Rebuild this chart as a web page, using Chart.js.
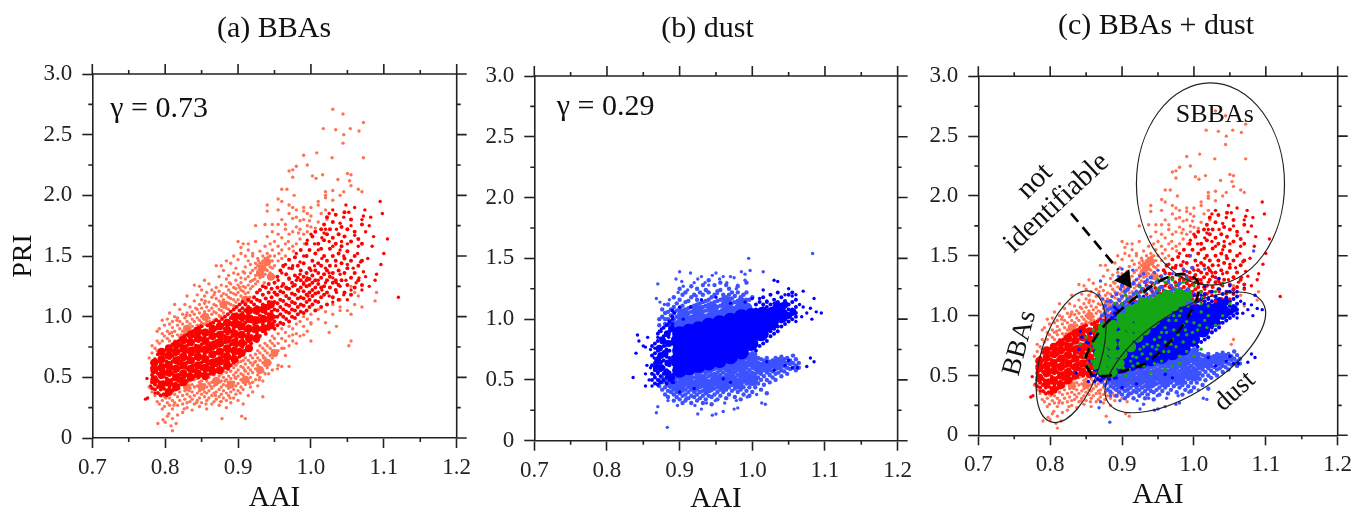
<!DOCTYPE html>
<html>
<head>
<meta charset="utf-8">
<title>BBAs and dust</title>
<script src="https://cdn.jsdelivr.net/npm/chart.js@4"></script>
<style>
html, body { margin: 0; padding: 0; background: #fff; overflow: hidden; }
canvas { position: absolute; top: 0; filter: blur(0.4px); }
</style>
</head>
<body>
<canvas id="panelA" style="left:0px" width="478" height="510"></canvas>
<canvas id="panelB" style="left:478px" width="440" height="510"></canvas>
<canvas id="panelC" style="left:918px" width="446" height="510"></canvas>
<script>
var aaiLabels = ['0.7', '0.8', '0.9', '1.0', '1.1', '1.2'];
var priLabels = ['0', '0.5', '1.0', '1.5', '2.0', '2.5', '3.0'];
var aaiMinor = [0.75, 0.85, 0.95, 1.05, 1.15];
var priMinor = [0.25, 0.75, 1.25, 1.75, 2.25, 2.75];

// BBAs, pale points (AAI, PRI)
var bbaPale = [
[1.03,2.71],[1.044,2.67],[1.072,2.60],[1.017,2.55],[1.034,2.54],[1.054,2.55],[1.066,2.53],[1.045,2.50],[1.044,2.43],[.99,2.33],
[.995,2.25],[1.008,2.35],[1.029,2.31],[1.072,2.31],[.975,2.21],[.98,2.24],[.97,2.2],[.975,2.15],[1.002,2.16],[1.007,2.14],
[1.016,2.17],[1.05,2.18],[1.055,2.17],[1.053,2.12],[1.055,2.08],[1.037,2.13],[1.065,2.05],[1.07,2.03],[1.02,2.03],[1.03,2.04],
[1.045,2.03],[.96,2.05],[.967,2.05],[.977,2.0],[.955,1.97],[.96,1.95],[.97,1.92],[.94,1.92],[.94,1.87],[.955,1.88],
[.81,.06],[.808,.1],[.815,.12],[.8,.13],[.79,.12],[.797,.15],[.805,.2],[.878,.16],[.905,.18],[.91,.16],
[1.0,.8],[.99,.85],[1.025,.87],[1.035,.92],[1.055,.8],[1.052,.76],[1.04,1.08],[1.05,1.05],[1.055,1.02],[1.06,1.1],
[1.07,1.08],[1.06,1.2],[1.065,1.17],[1.088,1.13],[1.09,1.2],[1.055,1.25],[1.02,.95],[1.0,.95],[.975,.85],[.96,.59],[.97,.59],
[.801,.33],[.812,.27],[.819,.41],[.826,.24],[.833,.39],[.843,.29],[.849,.44],[.856,.28],[.862,.43],[.869,.35],
[.876,.3],[.882,.47],[.889,.33],[.896,.5],[.903,.37],[.909,.56],[.916,.45],[.922,.62],[.929,.48],[.935,.66],
[.942,.53],[.948,.69],[.954,.57],[.963,.74],[.809,.87],[.816,.97],[.822,.85],[.829,1.01],[.835,.88],[.842,1.07],
[.848,.93],[.855,1.13],[.861,.96],[.868,1.2],[.875,1.0],[.881,1.11],[.888,1.28],[.895,1.07],[.902,1.24],[.909,1.36],
[.916,1.16],[.923,1.31],[.93,1.41],[.936,1.28],[.943,1.46],[.949,1.33],[.956,1.52],[.962,1.41],[.969,1.62],[.976,1.54],
[.983,1.69],[.991,1.6],[.998,1.79],[1.006,1.73],[1.014,1.85],[1.022,1.8],[.933,1.44],[.938,1.39],[.941,1.49],[.928,1.46]
];

var bbaPaleColumns = [
[.778,[.42,.66]],[.782,[.38,.7,.76]],[.786,[.35,.44,.74]],[.789,[.3,.72,.8,.88]],[.792,[.28,.36,.78,.9]],
[.796,[.24,.31,.8,.86,.97]],[.799,[.26,.34,.4,.84,.93]],[.803,[.18,.29,.37,.82,.88,.98]],[.806,[.27,.33,.8,.86,.94,1.03]],
[.81,[.16,.24,.31,.4,.84,.91,.96]],[.813,[.29,.36,.8,.88,1.0,1.1]],[.817,[.19,.27,.34,.42,.85,.93,.99]],[.82,[.31,.38,.44,.83,.9,.96,1.06]],
[.824,[.21,.28,.35,.88,.94,1.02]],[.827,[.32,.39,.45,.86,.91,.99,1.1]],[.83,[.25,.29,.36,.43,.89,.96,1.03,1.17]],[.834,[.3,.34,.41,.47,.9,.94,1.01,1.08]],
[.837,[.23,.32,.38,.44,.92,.98,1.04]],[.84,[.28,.35,.42,.48,.89,.96,1.02,1.13,1.26]],[.844,[.31,.37,.43,.49,.93,.99,1.06,1.18]],[.847,[.26,.33,.39,.46,.91,.97,1.03,1.1,1.25]],
[.85,[.29,.36,.41,.47,.95,1.0,1.07,1.14,1.22]],[.854,[.34,.38,.44,.49,.94,.98,1.04,1.11,1.17,1.3]],[.857,[.24,.31,.37,.42,.47,.96,1.01,1.08,1.2]],[.86,[.33,.39,.45,.5,.93,.99,1.05,1.12,1.27]],
[.864,[.28,.35,.41,.46,.95,1.02,1.07,1.16,1.22]],[.867,[.3,.37,.43,.48,.52,.97,1.04,1.1,1.18]],[.87,[.32,.38,.44,.49,.98,1.03,1.09,1.15,1.24,1.42]],[.874,[.27,.34,.4,.46,.51,1.01,1.06,1.13,1.21,1.33]],
[.877,[.3,.36,.42,.47,.53,1.0,1.05,1.11,1.17,1.26,1.42]],[.88,[.33,.39,.44,.5,.55,1.03,1.08,1.14,1.19,1.38]],[.884,[.25,.31,.37,.43,.48,.54,1.07,1.12,1.18,1.25,1.31,1.46]],[.887,[.35,.41,.46,.51,.57,1.06,1.11,1.16,1.22,1.34]],
[.89,[.29,.38,.44,.49,.55,1.1,1.15,1.2,1.27,1.44]],[.894,[.33,.4,.46,.52,.58,1.09,1.14,1.19,1.24,1.36,1.5]],[.897,[.36,.43,.49,.54,.6,1.12,1.18,1.23,1.3,1.4]],[.9,[.31,.39,.45,.51,.56,.62,1.14,1.2,1.26,1.35,1.47,1.62]],
[.904,[.42,.48,.53,.59,.63,1.17,1.22,1.28,1.32,1.52,1.57]],[.907,[.28,.4,.46,.52,.58,.64,1.15,1.21,1.25,1.37,1.6]],[.91,[.44,.5,.55,.61,.66,1.19,1.24,1.31,1.41,1.5]],[.914,[.35,.47,.53,.58,.64,1.2,1.26,1.33,1.46,1.55,1.6]],
[.917,[.42,.5,.56,.62,.68,1.23,1.29,1.36,1.43]],[.92,[.38,.46,.54,.6,.66,1.25,1.3,1.38,1.5,1.52]],[.924,[.48,.57,.63,.69,1.27,1.34,1.4,1.44,1.62,1.75]],[.927,[.43,.52,.6,.66,.72,1.29,1.36,1.42,1.48]],
[.93,[.5,.58,.64,.7,.76,1.32,1.38,1.44,1.54]],[.934,[.34,.47,.55,.62,.68,.74,1.33,1.4,1.46,1.5]],[.937,[.53,.6,.66,.72,.78,1.35,1.42,1.48,1.58,1.76]],[.94,[.58,.64,.7,.76,1.38,1.44,1.52,1.66]],
[.944,[.62,.68,.74,.8,1.36,1.41,1.5,1.6]],[.947,[.56,.66,.72,.78,.84,1.4,1.46,1.55,1.7,1.76]],[.95,[.7,.76,.82,1.42,1.5,1.62]],[.955,[.6,.72,.78,.86,1.46,1.58,1.68,1.76]],
[.96,[.74,.82,.9,1.48,1.55,1.65,1.8]],[.965,[.68,.8,.87,1.5,1.6,1.72,1.76]],[.97,[.76,.84,.92,1.56,1.68,1.85]],[.975,[.8,.9,1.58,1.7,1.81,1.9]],
[.98,[.78,.86,.94,1.6,1.74,1.82,1.88]],[.985,[.84,.96,1.64,1.72,1.79]],[.99,[.92,1.0,1.68,1.8,1.87,1.9]],[.995,[.88,.98,1.7,1.75,1.85]],
[1.0,[.94,1.02,1.74,1.83,1.9]],[1.01,[.98,1.06,1.78,1.92,1.95]],[1.02,[1.04,1.88,1.98,2.0]],[1.03,[1.02,1.1,1.96]],[1.04,[1.05,1.14,2.0]]
];

// denser patches of the pale BBA cloud
var bbaPaleDense = [
[.83,.9],[.855,1.0],[.88,1.1],[.91,1.14],[.933,1.4],[.94,1.45],[.93,1.36],[.945,1.33],[.83,.42],[.85,.42],
[.87,.47],[.89,.44],[.91,.48],[.93,.56],[.94,.62],[.95,.7]
];

// BBAs, saturated points of the upper cloud
var bbaRed = [
[1.12,1.16],[1.105,1.64],[1.098,1.85],[1.095,1.95],[1.1,1.52],[1.096,1.43],[1.09,1.35],[1.088,1.3],[1.086,1.66],[1.084,1.58],
[1.082,1.82],[1.074,1.88],[1.072,1.83],[1.07,1.8],[1.075,1.7],[1.08,1.75],[1.078,1.48],[1.075,1.33],[1.072,1.37],[1.08,1.25],
[1.068,1.45],[1.065,1.58],[1.06,1.67],[1.055,1.75],[1.052,1.86],[1.06,1.9],[1.048,1.92],[1.045,1.82],[1.04,1.77],[1.035,1.72],
[1.03,1.88],[1.025,1.85],[1.02,1.72],[1.018,1.69],[1.015,1.65],[1.025,1.62],[1.03,1.58],[1.04,1.55],[1.045,1.5],[1.05,1.43],
[1.058,1.4],[1.062,1.28],[1.055,1.22],[1.048,1.3],[1.04,1.35],[1.035,1.28],[1.03,1.32],[1.025,1.36],[1.02,1.4],[1.015,1.48],
[1.01,1.55],[1.005,1.6],[1.0,1.68],[.995,1.63],[.99,1.5],[.985,1.45],[.98,1.52],[.975,1.42],[.97,1.4],[.965,1.43],
[.96,1.36],[.955,1.3],[.96,1.25],[.97,1.32],[.975,1.25],[.98,1.3],[.985,1.35],[.99,1.28],[.995,1.32],[1.0,1.38],
[1.005,1.42],[1.01,1.3],[1.015,1.22],[1.02,1.28],[1.025,1.17],[1.03,1.12],[1.035,1.2],[1.04,1.25],[1.045,1.18],[1.05,1.14],
[1.07,1.22],[1.066,1.32],[1.064,1.52],[1.05,1.6],[1.042,1.62],[1.034,1.42],[.952,1.18],[.967,1.23],[.983,1.21],[.996,1.17]
];

var bbaRedEdge = [[.775,.49],[.773,.32],[.776,.33],[.78,.43],[.783,.53],[.786,.37]];

var bbaRedColumns = [
[.782,[.41,.46,.52,.58,.62]],[.786,[.4,.44,.5,.55,.6,.65]],[.79,[.37,.42,.47,.53,.58,.63,.69]],[.794,[.35,.4,.45,.5,.56,.61,.66,.7]],
[.798,[.36,.41,.46,.51,.55,.6,.64,.69,.72]],[.802,[.35,.39,.44,.49,.54,.59,.63,.67,.73]],[.806,[.37,.42,.47,.52,.57,.62,.66,.71,.75]],[.81,[.39,.44,.48,.53,.58,.63,.68,.72,.77]],
[.814,[.4,.45,.5,.55,.59,.64,.69,.74,.79]],[.818,[.43,.47,.52,.57,.61,.66,.71,.76,.8]],[.822,[.44,.49,.54,.58,.63,.68,.72,.77,.82]],[.826,[.46,.5,.55,.6,.65,.7,.75,.79,.84]],
[.83,[.47,.52,.57,.62,.66,.71,.76,.8,.85]],[.834,[.49,.53,.58,.63,.68,.73,.78,.83,.87]],[.838,[.5,.55,.6,.64,.69,.74,.79,.84,.88]],[.842,[.51,.56,.61,.66,.71,.76,.81,.85,.9]],
[.846,[.5,.55,.6,.65,.7,.75,.8,.86,.91]],[.85,[.52,.57,.62,.67,.72,.77,.82,.87,.92]],[.854,[.5,.54,.59,.64,.69,.74,.79,.84,.88]],[.858,[.52,.56,.61,.66,.71,.76,.81,.86,.93]],
[.862,[.53,.58,.63,.68,.73,.78,.83,.88,.94]],[.866,[.53,.59,.64,.69,.74,.79,.84,.89,.95]],[.87,[.55,.6,.65,.7,.75,.8,.85,.9,.97]],[.874,[.54,.61,.66,.71,.76,.81,.86,.91,.96]],
[.878,[.56,.62,.67,.72,.77,.82,.87,.93,.98]],[.882,[.58,.64,.69,.74,.79,.84,.9,.95,1.0]],[.886,[.57,.63,.7,.75,.8,.86,.91,.96,1.02]],[.89,[.6,.66,.72,.77,.83,.88,.94,.99,1.04]],
[.894,[.62,.68,.74,.79,.85,.9,.95,1.0,1.06]],[.898,[.64,.7,.76,.82,.87,.92,.97,1.02,1.08]],[.902,[.67,.73,.78,.84,.9,.95,1.0,1.05,1.1]],[.906,[.69,.75,.81,.86,.92,.97,1.03,1.07,1.12]],
[.91,[.72,.78,.84,.89,.95,1.0,1.05,1.1]],[.914,[.74,.8,.86,.92,.98,1.02,1.08,1.14]],[.918,[.78,.84,.9,.96,1.0,1.05,1.12]],[.922,[.82,.88,.94,.99,1.05,1.1,1.16]],
[.926,[.8,.86,.92,.97,1.03,1.08,1.14,1.2]],[.93,[.84,.9,.96,1.01,1.07,1.13,1.22]],[.934,[.88,.94,1.0,1.05,1.1,1.18,1.25]],[.938,[.86,.92,.98,1.03,1.09,1.15,1.24]],
[.942,[.9,.96,1.02,1.07,1.12,1.2,1.27]],[.946,[.92,.98,1.04,1.1,1.16,1.23]],[.95,[.9,.96,1.0,1.06,1.12,1.2,1.28]],[.954,[.93,1.0,1.05,1.11,1.18,1.24,1.33]],
[.958,[.95,1.02,1.08,1.14,1.21,1.38]],[.962,[.94,1.0,1.06,1.13,1.2,1.27,1.42]],[.966,[.98,1.04,1.1,1.17,1.24,1.35]],[.97,[.96,1.03,1.09,1.15,1.23,1.31,1.47]],
[.974,[1.0,1.06,1.12,1.19,1.28,1.4]],[.978,[.99,1.05,1.11,1.18,1.26,1.34,1.49]],[.982,[1.02,1.08,1.15,1.22,1.32,1.42]],[.986,[1.04,1.1,1.16,1.24,1.3,1.38,1.55]],
[.99,[1.03,1.09,1.15,1.21,1.27,1.33,1.44]],[.994,[1.05,1.12,1.18,1.25,1.3,1.36,1.5,1.6]],[.998,[1.08,1.14,1.2,1.26,1.31,1.4,1.55]],[1.002,[1.1,1.17,1.22,1.28,1.34,1.46,1.66]],
[1.006,[1.05,1.13,1.19,1.24,1.3,1.38,1.52,1.7]],[1.01,[1.12,1.2,1.27,1.36,1.44,1.6]],[1.014,[1.08,1.16,1.24,1.32,1.42,1.56,1.72]],[1.018,[1.18,1.25,1.35,1.5,1.63,1.76]],
[1.022,[1.1,1.2,1.3,1.38,1.46,1.68,1.82]],[1.026,[1.24,1.33,1.42,1.56,1.72]],[1.03,[1.16,1.28,1.36,1.5,1.65,1.78]],[1.034,[1.22,1.3,1.46,1.6,1.84]],
[1.038,[1.14,1.26,1.38,1.52,1.68]],[1.042,[1.3,1.44,1.58,1.74]],[1.046,[1.2,1.36,1.48,1.66,1.86]],[1.05,[1.26,1.4,1.54,1.72]],
[1.055,[1.18,1.32,1.46,1.62,1.8]],[1.06,[1.24,1.36,1.5,1.7]],[1.065,[1.3,1.42,1.64]],[1.07,[1.26,1.46,1.6,1.76]]
];

// filled core of the saturated BBA cloud
var bbaRedDense = [
[.785,.48],[.785,.56],[.785,.62],[.795,.44],[.795,.52],[.795,.58],[.795,.65],[.795,.71],[.805,.38],[.805,.46],
[.805,.54],[.805,.6],[.805,.68],[.805,.74],[.815,.42],[.815,.5],[.815,.57],[.815,.64],[.815,.71],[.815,.77],
[.825,.46],[.825,.53],[.825,.6],[.825,.67],[.825,.74],[.825,.81],[.835,.5],[.835,.57],[.835,.64],[.835,.72],
[.835,.79],[.835,.85],[.845,.53],[.845,.6],[.845,.67],[.845,.74],[.845,.82],[.845,.88],[.855,.51],[.855,.58],
[.855,.65],[.855,.73],[.855,.8],[.855,.87],[.865,.55],[.865,.62],[.865,.69],[.865,.76],[.865,.84],[.865,.9],
[.875,.56],[.875,.63],[.875,.71],[.875,.78],[.875,.85],[.875,.92],[.885,.6],[.885,.67],[.885,.74],[.885,.81],
[.885,.89],[.885,.95],[.895,.65],[.895,.72],[.895,.79],[.895,.86],[.895,.94],[.895,1.0],[.905,.7],[.905,.78],
[.905,.85],[.905,.92],[.905,1.0],[.915,.74],[.915,.82],[.915,.9],[.915,.98],[.915,1.05],[.925,.82],[.925,.9],
[.925,.97],[.925,1.05],[.935,.9],[.935,.98],[.935,1.06],[.945,.93],[.945,1.0],[.945,1.1]
];

// dust, pale points
var dustPale = [
[1.083,1.54],[.995,1.5],[.985,1.39],[.99,1.37],[.997,1.4],[1.015,1.39],[.9,1.39],[.915,1.38],[.895,1.33],[.903,1.31],
[.905,1.27],[.92,1.3],[.925,1.33],[.93,1.35],[.935,1.3],[.94,1.28],[.945,1.36],[.95,1.38],[.955,1.33],[.96,1.35],
[.965,1.3],[.97,1.35],[.975,1.34],[.98,1.28],[.99,1.32],[.87,1.29],[.868,1.17],[.873,1.14],[.883,.11],[.868,.23],
[.87,.28],[.925,.22],[.945,.21],[.95,.22],[.96,.24],[.975,.26],[.98,.27],[1.013,.31],[1.018,.3],[.93,.26],
[.879,1.12],[.886,1.16],[.898,1.22],[.911,1.24],[.923,1.19],[.938,1.23],[.952,1.21],[.968,1.17],[.978,1.25],[.987,1.2],
[.884,.33],[.897,.29],[.909,.35],[.921,.29],[.937,.31],[.949,.33],[.962,.31],[.978,.33],[.993,.36],[1.006,.38]
];

var dustPaleColumns = [
[.872,[.45,.5,.95,1.0]],[.876,[.42,.48,.52,1.02,1.08]],[.88,[.38,.44,.49,.96,1.0,1.05]],[.884,[.36,.41,.46,.51,1.0,1.06,1.12]],
[.888,[.4,.44,.48,.53,.98,1.03,1.08]],[.892,[.33,.38,.42,.46,.5,1.0,1.05,1.1,1.18]],[.896,[.36,.4,.44,.48,.52,.97,1.02,1.07,1.13]],[.9,[.34,.39,.43,.47,.51,.55,.96,1.0,1.04,1.09,1.16,1.25]],
[.904,[.31,.37,.41,.45,.49,.53,.98,1.02,1.06,1.11,1.2]],[.908,[.33,.38,.42,.46,.5,.55,.58,1.0,1.04,1.08,1.14,1.22]],[.912,[.35,.4,.44,.48,.52,.56,1.01,1.05,1.09,1.15]],[.916,[.31,.37,.42,.46,.5,.54,.58,.62,1.02,1.06,1.1,1.18,1.27]],
[.92,[.36,.4,.44,.48,.52,.56,.6,1.03,1.07,1.11,1.2]],[.924,[.33,.38,.42,.46,.5,.54,.58,.62,1.04,1.08,1.12,1.16,1.25]],[.928,[.35,.4,.44,.48,.52,.56,.6,.63,1.05,1.09,1.13,1.22]],[.932,[.31,.37,.41,.45,.49,.53,.57,.61,1.06,1.1,1.14,1.2,1.28]],
[.936,[.34,.39,.43,.47,.51,.55,.59,.63,1.07,1.11,1.15,1.24]],[.94,[.37,.41,.45,.49,.53,.57,.61,.65,1.08,1.12,1.16,1.22,1.32]],[.944,[.3,.36,.42,.46,.5,.54,.58,.62,.66,1.09,1.13,1.18]],[.948,[.38,.43,.47,.51,.55,.59,.63,.67,1.1,1.14,1.2,1.28]],
[.952,[.34,.4,.44,.48,.52,.56,.6,.64,.68,1.1,1.15,1.23]],[.956,[.37,.42,.46,.5,.54,.58,.62,.66,.7,1.11,1.16,1.24,1.3]],[.96,[.4,.44,.48,.52,.56,.6,.64,.68,1.12,1.17,1.2]],[.964,[.35,.42,.46,.5,.54,.58,.62,.66,.7,1.12,1.18,1.28]],
[.968,[.38,.44,.48,.52,.56,.6,.64,.68,.72,1.13,1.2,1.25]],[.972,[.41,.46,.5,.54,.58,.62,.66,.7,1.13,1.17,1.22]],[.976,[.36,.43,.48,.52,.56,.6,.64,.68,1.14,1.19]],[.98,[.4,.45,.5,.54,.58,.62,.66,.7,1.15,1.22,1.27]],
[.984,[.34,.42,.47,.52,.56,.6,.64,.68,1.14,1.18]],[.988,[.38,.44,.49,.54,.58,.62,.66,.7,1.15,1.2]],[.992,[.41,.47,.52,.56,.6,.64,.68,1.16,1.22,1.3]],[.996,[.37,.44,.5,.54,.58,.62,.66,.71,1.16]],
[1.0,[.4,.47,.52,.56,.6,.64,.68,.72,1.18]],[1.004,[.44,.5,.55,.59,.63,.67,.71]],[1.008,[.47,.52,.56,.6,.64,.68]],[1.012,[.42,.5,.55,.59,.63,.67]],
[1.016,[.46,.53,.58,.62,.66]],[1.02,[.39,.5,.56,.6,.64,.68]],[1.024,[.48,.54,.58,.62,.65]],[1.028,[.52,.57,.61,.66]],
[1.032,[.5,.55,.59,.63,.68]],[1.036,[.56,.6,.64,.67]],[1.04,[.53,.58,.62,.66,.69]],[1.044,[.57,.61,.65,.67]],
[1.048,[.55,.6,.64,.68]],[1.052,[.59,.63,.66]],[1.056,[.6,.64,.7]],[1.06,[.58,.62,.67]],[1.064,[.6,.64]]
];

// filled bands of the pale dust cloud, above and below the core
var dustPaleDense = [
[.89,.47],[.9,.45],[.91,.5],[.92,.45],[.93,.5],[.94,.44],[.95,.5],[.96,.46],[.97,.51],[.98,.47],
[.99,.53],[1.0,.5],[.91,.57],[.925,.6],[.94,.6],[.955,.62],[.97,.6],[.985,.62],[1.0,.66],[1.01,.6],
[1.02,.62],[1.035,.63],[.892,.94],[.902,.96],[.912,.97],[.922,.98],[.932,1.0],[.942,1.01],[.952,1.03],[.962,1.05],
[.972,1.06],[.982,1.08],[.992,1.09],[.905,1.04],[.925,1.07],[.945,1.09],[.965,1.12],[.985,1.13]
];

// dust, saturated points
var dustBlue = [
[.836,.52],[.84,.72],[.842,.87],[.844,.82],[.85,.78],[.853,.77],[.856,.85],[.86,.75],[.855,.62],[.853,.55],
[.853,.45],[.862,.45],[.858,.5],[.86,.6],[.865,.54],[.865,.68],[.866,.76],[.87,.85],[.872,.9],[.875,.92],
[.873,.48],[.872,.6],[.878,.5],[.88,.7],[.88,.78],[.885,.85],[.884,.96],[.89,1.0],[.893,1.05],[.9,1.1],
[.905,1.0],[.87,.55],[.875,.65],[.885,.53],[.892,.48],[.915,1.1],[.93,1.16],[.95,1.18],[.97,1.13],[.99,1.14],
[1.0,1.17],[1.01,1.17],[1.02,1.15],[1.03,1.13],[1.035,1.31],[1.03,1.32],[1.015,1.24],[1.045,1.2],[1.05,1.25],[1.055,1.19],
[1.06,1.2],[1.07,1.23],[1.065,1.12],[1.07,1.1],[1.068,1.02],[1.06,.98],[1.075,1.05],[1.08,1.09],[1.085,1.17],[1.088,1.06],
[1.095,1.05],[1.082,1.0],[1.085,.65],[1.075,.61],[1.08,.68],[1.045,.62],[.96,.51],[.97,.48],[.92,.43],[.9,.4],
[1.02,.65],[1.055,.6],[1.03,.58],[1.062,.6],[1.05,.66]
];

var dustBlueColumns = [
[.862,[.5,.55,.62,.7,.78]],[.866,[.47,.52,.58,.64,.72,.8]],[.87,[.46,.5,.56,.62,.68,.74,.82,.88]],[.874,[.48,.53,.58,.64,.7,.76,.84,.9]],
[.878,[.5,.55,.6,.66,.72,.78,.86,.93]],[.882,[.47,.52,.58,.63,.69,.75,.81,.88,.95]],[.886,[.5,.56,.62,.68,.74,.8,.9,.98]],[.89,[.48,.54,.96,1.02,1.07]],
[1.005,[.74,.8,1.08,1.12]],[1.01,[.78,1.07,1.14]],[1.015,[.8,.84,1.09,1.12,1.18]],[1.02,[.82,.88,1.1,1.14]],
[1.025,[.86,.9,1.08,1.12,1.2]],[1.03,[.88,.92,1.1,1.16]],[1.035,[.9,.94,1.1,1.14,1.22]],[1.04,[.94,.98,1.07,1.12,1.18]],
[1.045,[.96,1.0,1.05,1.1,1.15]],[1.05,[.98,1.02,1.08,1.12,1.2]],[1.055,[1.0,1.04,1.08,1.14,1.22]],[1.06,[1.02,1.05,1.1,1.16]]
];

// ragged left and right ends of the solid dust core
var dustBlueMid = [
[.882,.56],[.884,.64],[.88,.72],[.885,.8],[.883,.88],[.875,.6],[.874,.7],[.877,.82],[.87,.66],[.889,.52],
[.889,.92],[.868,.6],[.872,.76],[1.04,1.08],[1.05,1.03],[1.056,1.06],[1.03,.99],[1.034,1.12],[1.045,1.12],[1.02,.92]
];

// solid core of the saturated dust cloud
var dustBlueDense = [
[.9,.58],[.897,.66],[.9,.74],[.898,.82],[.9,.88],[.913,.6],[.911,.68],[.914,.76],[.912,.84],[.913,.9],
[.926,.62],[.924,.7],[.927,.78],[.925,.86],[.926,.92],[.94,.64],[.938,.72],[.941,.8],[.939,.88],[.94,.95],
[.955,.66],[.953,.74],[.956,.82],[.954,.9],[.955,.97],[.97,.69],[.968,.77],[.971,.85],[.969,.93],[.97,.99],
[.985,.73],[.983,.81],[.986,.89],[.984,.97],[.985,1.02],[.998,.8],[.997,.88],[1.0,.96],[.999,1.03],[1.012,.88],
[1.012,.96],[1.014,1.04],[1.026,.97],[1.028,1.04],[1.04,1.03]
];

// points where both clouds overlap in panel (c)
var overlapGreen = [
[.87,.62],[.868,.72],[.862,.56],[.858,.62],[.855,.72],[.852,.58],[.848,.66],[.842,.76],[.85,.82],[.86,.88],
[.865,.52],[.88,.5],[.9,1.1],[.91,1.13],[.92,1.18],[.93,1.2],[.94,1.15],[.95,1.22],[.96,1.28],[.97,1.3],
[.98,1.33],[.99,1.3],[.955,1.16],[.965,1.2],[.975,1.22],[.985,1.18],[.995,1.2],[1.0,1.12],[1.01,1.1],[1.02,1.08],
[1.03,1.2],[1.04,1.27],[.965,.96],[.972,.88],[.98,1.0],[.985,.92],[.99,.84],[.995,1.02],[1.0,.94],[1.005,.88],
[1.01,1.03],[1.015,.96],[1.02,1.0],[.95,.94],[.955,.86],[.96,.78],[.965,.7],[.97,.8],[.975,.74],[.98,.66],
[.985,.78],[.99,.7],[1.0,.78],[.93,.74],[.935,.76],[.94,.68],[.945,.6],[.95,.68],[.955,.62],[.925,.72],
[.92,.65],[.915,.58],[.91,.55],[.905,.5],[.93,.58],[.94,.52],[.96,.55],[.97,.58],[.98,.6],[1.03,.92],
[1.04,1.0],[1.05,1.1],[1.01,.72],[1.0,.66],[.945,.8],[.96,.9],[.975,.96],[.99,.95],[.95,.75],[.915,.66],
[.922,.6],[.935,.64],[.948,.72],[.958,.7],[.968,.76],[.978,.84],[.988,.88],[.998,.86],[1.008,.92],[1.018,.9],
[.902,.56],[.912,.62],[.928,.68],[.942,.74],[.952,.82],[.962,.86],[.972,1.0],[.982,1.04],[.992,1.08],[1.012,1.15],
[.89,1.1],[.905,1.17],[.925,1.24],[.945,1.26],[.965,1.32],[1.0,1.25],[1.01,1.2],[.975,1.26],[.985,1.28],[.95,1.3]
];

var overlapGreenDense = [
[.866,.6],[.868,.68],[.866,.76],[.87,.84],[.874,.9],[.874,.54],[.876,.62],[.874,.7],[.878,.78],[.88,.86],
[.886,.53],[.886,.6],[.888,.68],[.886,.76],[.888,.84],[.888,.92],[.896,.6],[.9,.68],[.902,.76],[.9,.84],
[.902,.92],[.9,.98],[.912,.74],[.91,.82],[.912,.9],[.91,.98],[.912,1.04],[.922,.82],[.92,.9],[.922,.98],
[.92,1.06],[.932,.88],[.93,.96],[.932,1.04],[.93,1.11],[.942,.94],[.94,1.02],[.942,1.1],[.952,1.0],[.95,1.08],
[.952,1.14],[.962,1.03],[.96,1.1],[.962,1.17],[.972,1.08],[.97,1.15],[.982,1.12],[.98,1.18],[.99,1.16]
];

var sbbaEllipse = { x: 1.023, y: 2.10, a: 0.103, b: 0.845, angle: 0 };
var bbaEllipse = { x: 0.829, y: 0.657, a: 0.0417, b: 0.57, angle: 17 };
var dustEllipse = { x: 0.988, y: 0.693, a: 0.128, b: 0.334, angle: -33 };

var notIdentifiableLoop = [
[.858,.504],[.849,.616],[.858,.769],[.876,.922],[.895,1.033],[.927,1.187],[.960,1.312],[.983,1.348],[1.004,1.298],[1.006,1.187],
[.999,1.075],[.983,.908],[.960,.741],[.932,.602],[.899,.532],[.879,.496],[.858,.504]
];
var arrowShaft = [[.829,1.855],[.895,1.382]];
var arrowHead = [[.904,1.304]];

var serif = '"Liberation Serif", "Times New Roman", serif';
var inkColor = '#222222';

function fromColumns(columns) {
    var list = [];
    columns.forEach(function(c) {
        c[1].forEach(function(y) {
            list.push([c[0], y]);
        });
    });
    return list;
}

function toPoints(list) {
    return list.map(function(p) {
        return { x: p[0], y: p[1] };
    });
}

function cloud(label, list, color, radius) {
    return {
        label: label,
        data: toPoints(list),
        backgroundColor: color,
        borderWidth: 0,
        pointRadius: radius,
        pointHoverRadius: radius
    };
}

// minor ticks, the top and right frame, ellipses and the labels inside the plots
var panelDecor = {
    id: 'panelDecor',
    afterDatasetsDraw: function(chart, args, opts) {
        var ctx = chart.ctx;
        var area = chart.chartArea;
        var xs = chart.scales.x;
        var ys = chart.scales.y;

        ctx.save();
        ctx.strokeStyle = inkColor;
        ctx.lineWidth = 1.6;
        ctx.beginPath();
        ctx.moveTo(area.left, area.top);
        ctx.lineTo(area.right, area.top);
        ctx.lineTo(area.right, area.bottom);
        xs.ticks.forEach(function(t) {
            var px = xs.getPixelForValue(t.value);
            ctx.moveTo(px, area.top);
            ctx.lineTo(px, area.top - 10);
        });
        ys.ticks.forEach(function(t) {
            var py = ys.getPixelForValue(t.value);
            ctx.moveTo(area.right, py);
            ctx.lineTo(area.right + 10, py);
        });
        aaiMinor.forEach(function(v) {
            var px = xs.getPixelForValue(v);
            ctx.moveTo(px, area.top);
            ctx.lineTo(px, area.top - 4);
            ctx.moveTo(px, area.bottom);
            ctx.lineTo(px, area.bottom + 4);
        });
        priMinor.forEach(function(v) {
            var py = ys.getPixelForValue(v);
            ctx.moveTo(area.left, py);
            ctx.lineTo(area.left - 4, py);
            ctx.moveTo(area.right, py);
            ctx.lineTo(area.right + 4, py);
        });
        ctx.stroke();

        ctx.lineWidth = 1.2;
        (opts.ellipses || []).forEach(function(e) {
            var cx = xs.getPixelForValue(e.x);
            var cy = ys.getPixelForValue(e.y);
            var rx = Math.abs(xs.getPixelForValue(e.x + e.a) - cx);
            var ry = Math.abs(ys.getPixelForValue(e.y + e.b) - cy);
            ctx.beginPath();
            ctx.ellipse(cx, cy, rx, ry, e.angle * Math.PI / 180, 0, Math.PI * 2);
            ctx.stroke();
        });

        ctx.fillStyle = '#111111';
        ctx.textBaseline = 'middle';
        (opts.notes || []).forEach(function(n) {
            ctx.save();
            ctx.translate(xs.getPixelForValue(n.x), ys.getPixelForValue(n.y));
            ctx.rotate((n.rotate || 0) * Math.PI / 180);
            ctx.textAlign = n.align || 'center';
            ctx.font = n.size + 'px ' + serif;
            ctx.fillText(n.text, 0, 0);
            ctx.restore();
        });

        ctx.font = '30px ' + serif;
        ctx.textAlign = 'center';
        ctx.fillText(opts.heading, opts.headingX, opts.headingY);
        ctx.restore();
    }
};

function makePanel(id, datasets, p) {
    var chartObject = document.getElementById(id).getContext('2d');

    new Chart(chartObject, {
        type: 'scatter',
        data: { datasets: datasets },
        plugins: [panelDecor],
        options: {
            responsive: false,
            animation: false,
            events: [],
            layout: { padding: { top: p.top, right: p.right, left: 0, bottom: 0 } },
            plugins: {
                legend: { display: false },
                tooltip: { enabled: false },
                panelDecor: {
                    heading: p.heading,
                    headingX: p.headingX,
                    headingY: p.headingY,
                    ellipses: p.ellipses,
                    notes: p.notes
                }
            },
            scales: {
                x: {
                    type: 'linear',
                    min: 0.7,
                    max: 1.2,
                    afterFit: function(axis) { axis.height = p.bottom; },
                    grid: {
                        drawOnChartArea: false,
                        tickLength: 10,
                        tickColor: inkColor,
                        tickWidth: 1.6
                    },
                    border: { color: inkColor, width: 1.6 },
                    ticks: {
                        stepSize: 0.1,
                        autoSkip: false,
                        maxRotation: 0,
                        padding: 6,
                        color: '#222222',
                        font: { family: serif, size: 23 },
                        callback: function(value, index) { return aaiLabels[index]; }
                    },
                    title: {
                        display: true,
                        text: 'AAI',
                        color: '#111111',
                        font: { family: serif, size: 29, lineHeight: p.xTitleLine },
                        padding: { top: 0, bottom: 0 }
                    }
                },
                y: {
                    type: 'linear',
                    min: 0,
                    max: 3,
                    afterFit: function(axis) { axis.width = p.left; },
                    grid: {
                        drawOnChartArea: false,
                        tickLength: 10,
                        tickColor: inkColor,
                        tickWidth: 1.6
                    },
                    border: { color: inkColor, width: 1.6 },
                    ticks: {
                        stepSize: 0.5,
                        autoSkip: false,
                        padding: 10,
                        color: '#222222',
                        font: { family: serif, size: 23 },
                        callback: function(value, index) { return priLabels[index]; }
                    },
                    title: {
                        display: p.yTitle,
                        text: 'PRI',
                        color: '#111111',
                        font: { family: serif, size: 28, lineHeight: 1 },
                        padding: { top: 10, bottom: 0 }
                    }
                }
            }
        }
    });
}

var PALE_RED = '#ff7355';
var RED = '#ff0000';
var PALE_BLUE = '#3d52ff';
var BLUE = '#0000ff';
var GREEN = '#14a614';
var DOT = 1.7;

function bbaLower() {
    return [
        cloud('BBAs edge', bbaRedEdge, RED, DOT),
        cloud('BBAs cloud', fromColumns(bbaRedColumns), RED, 2),
        cloud('BBAs core', bbaRedDense, RED, 4),
        cloud('BBAs pale', bbaPale, PALE_RED, DOT),
        cloud('BBAs pale cloud', fromColumns(bbaPaleColumns), PALE_RED, DOT),
        cloud('BBAs pale fill', bbaPaleDense, PALE_RED, 4)
    ];
}

function dustClouds() {
    return [
        cloud('dust', dustBlue, BLUE, DOT),
        cloud('dust cloud', fromColumns(dustBlueColumns), BLUE, 2),
        cloud('dust ends', dustBlueMid, BLUE, 3.5),
        cloud('dust core', dustBlueDense, BLUE, 7.5),
        cloud('dust pale', dustPale, PALE_BLUE, DOT),
        cloud('dust pale cloud', fromColumns(dustPaleColumns), PALE_BLUE, 2.2),
        cloud('dust pale fill', dustPaleDense, PALE_BLUE, 6)
    ];
}

makePanel('panelA', [cloud('BBAs', bbaRed, RED, DOT)].concat(bbaLower()), {
    left: 92.3, right: 21.3, top: 74, bottom: 72, xTitleLine: 0.8, yTitle: true,
    heading: '(a) BBAs', headingX: 274, headingY: 29,
    notes: [{ text: 'γ = 0.73', x: 0.7247, y: 2.71, size: 30, align: 'left' }]
});

makePanel('panelB', dustClouds(), {
    left: 56.3, right: 20, top: 76, bottom: 69.3, xTitleLine: 0.75, yTitle: false,
    heading: '(b) dust', headingX: 229.5, headingY: 29,
    notes: [{ text: 'γ = 0.29', x: 0.731, y: 2.745, size: 30, align: 'left' }]
});

var lineOverlays = [
    {
        type: 'line',
        label: 'not identifiable',
        data: toPoints(notIdentifiableLoop),
        borderColor: '#000000',
        borderWidth: 2.6,
        borderDash: [11, 7],
        tension: 0.35,
        pointRadius: 0,
        fill: false
    },
    {
        type: 'line',
        label: 'arrow',
        data: toPoints(arrowShaft),
        borderColor: '#000000',
        borderWidth: 2.6,
        borderDash: [11, 7],
        pointRadius: 0,
        fill: false
    },
    {
        label: 'arrow head',
        data: toPoints(arrowHead),
        backgroundColor: '#000000',
        borderWidth: 0,
        pointStyle: 'triangle',
        rotation: 143,
        pointRadius: 11
    }
];

makePanel('panelC', lineOverlays.concat([
    cloud('overlap', overlapGreen, GREEN, DOT),
    cloud('overlap core', overlapGreenDense, GREEN, 5.5),
    cloud('BBAs', bbaRed, RED, DOT)
], dustClouds(), bbaLower()), {
    left: 60.3, right: 26.3, top: 76.3, bottom: 74.7, xTitleLine: 1, yTitle: false,
    heading: '(c) BBAs + dust', headingX: 238, headingY: 26,
    ellipses: [sbbaEllipse, bbaEllipse, dustEllipse],
    notes: [
        { text: 'SBBAs', x: 1.029, y: 2.677, size: 26 },
        { text: 'not', x: 0.779, y: 2.12, size: 29, rotate: -45 },
        { text: 'identifiable', x: 0.809, y: 1.94, size: 29, rotate: -43 },
        { text: 'BBAs', x: 0.758, y: 0.769, size: 27, rotate: -75 },
        { text: 'dust', x: 1.057, y: 0.365, size: 27, rotate: -42 }
    ]
});
</script>
</body>
</html>
